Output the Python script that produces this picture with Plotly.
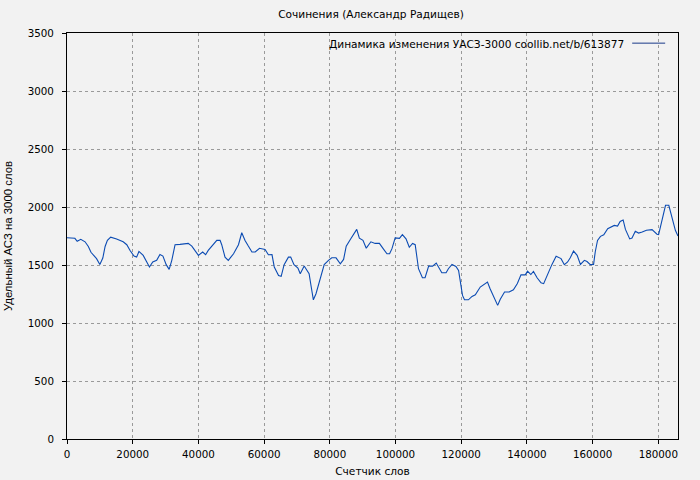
import plotly.graph_objects as go

title_text = "Сочинения (Александр Радищев)"
x_title = "Счетчик слов"
y_title = "Удельный АСЗ на 3000 слов"
series_name = "Динамика изменения УАСЗ-3000 coollib.net/b/613877"

words = [0, 2400, 3100, 4200, 5500, 6500, 7300, 9000, 10000, 10900, 11600, 12300, 13300,
         15100, 17100, 18200, 19200, 20400, 21200, 21900, 23200, 25100, 26100, 27300,
         28300, 29200, 30200, 31100, 31900, 32900, 34400, 36900, 38000, 40000, 41300,
         42200, 43000, 44600, 45600, 46600, 47100, 48100, 49100, 50700, 52200, 53200,
         54200, 55200, 56300, 57300, 58600, 60300, 61300, 62400, 63100, 64400, 65200,
         66100, 67400, 68100, 69100, 70300, 71000, 72200, 73700, 74300, 75000, 75800,
         76900, 78300, 79600, 80600, 81900, 83200, 84200, 85000, 86200, 87000, 88200,
         89000, 90100, 91100, 92500, 93800, 95100, 96300, 97400, 98200, 98900, 99900,
         101200, 102100, 103200, 104200, 105200, 106000, 106500, 107000, 108200, 109000,
         110100, 111300, 112400, 113100, 114100, 115400, 116100, 117200, 118400, 119200,
         119700, 120400, 121000, 122200, 123300, 124300, 125800, 127000, 128000, 128800,
         129900, 131100, 131900, 133200, 134600, 135900, 137100, 138200, 139500, 140200,
         141200, 142000, 143100, 144300, 145100, 146300, 147600, 148900, 150400, 151400,
         152400, 153200, 154200, 155300, 156300, 157500, 158300, 159300, 160300, 160800,
         161500, 162400, 163400, 164600, 165600, 166600, 167600, 168400, 169300, 170000,
         171300, 172000, 173000, 174000, 175100, 176400, 178100, 178800, 179600, 180100,
         181100, 182200, 183200, 184200, 185200, 186000]

uasz = [1735, 1730, 1704, 1721, 1700, 1660, 1610, 1555, 1505, 1560, 1660, 1712, 1740,
        1725, 1700, 1675, 1625, 1577, 1568, 1617, 1583, 1483, 1526, 1540, 1591, 1577,
        1503, 1462, 1540, 1675, 1678, 1686, 1663, 1583, 1612, 1589, 1626, 1683, 1712,
        1712, 1675, 1568, 1540, 1597, 1675, 1778, 1712, 1663, 1612, 1612, 1644, 1634,
        1589, 1590, 1483, 1410, 1402, 1503, 1568, 1568, 1503, 1474, 1425, 1491, 1425,
        1319, 1200, 1252, 1367, 1503, 1540, 1562, 1562, 1511, 1548, 1663, 1718, 1755,
        1807, 1732, 1712, 1645, 1700, 1686, 1686, 1639, 1597, 1597, 1639, 1734, 1730,
        1762, 1725, 1653, 1686, 1675, 1555, 1468, 1390, 1390, 1490, 1490, 1517, 1483,
        1433, 1433, 1468, 1505, 1488, 1454, 1353, 1238, 1200, 1200, 1229, 1243, 1310,
        1330, 1353, 1296, 1224, 1152, 1204, 1267, 1267, 1287, 1340, 1415, 1415, 1447,
        1418, 1444, 1390, 1346, 1339, 1425, 1503, 1575, 1555, 1503, 1526, 1562, 1620,
        1583, 1505, 1540, 1530, 1503, 1505, 1612, 1712, 1747, 1761, 1813, 1828, 1841,
        1835, 1876, 1888, 1807, 1725, 1733, 1790, 1775, 1785, 1799, 1805, 1787, 1765,
        1762, 1885, 2015, 2015, 1915, 1799, 1750]

x_ticks = [0, 20000, 40000, 60000, 80000, 100000, 120000, 140000, 160000, 180000]
y_ticks = [0, 500, 1000, 1500, 2000, 2500, 3000, 3500]

FONT = "DejaVu Sans, sans-serif"
YFONT = "Liberation Sans, Arial, sans-serif"
LINE_COLOR = "#0b4bb3"
FS = 10.6

fig = go.Figure()
fig.add_trace(go.Scatter(x=words, y=uasz, mode="lines", name=series_name,
                         line=dict(color=LINE_COLOR, width=1.1), showlegend=False))

axis_common = dict(
    showline=True, linecolor="black", linewidth=1, mirror=True,
    ticks="outside", ticklen=4, tickcolor="black",
    showgrid=True, gridcolor="#9a9a9a", griddash="dot", gridwidth=1,
    zeroline=False, tickfont=dict(size=10.3, color="black", family=FONT),
    automargin=False,
)

fig.update_xaxes(range=[0, 186000], tickvals=x_ticks,
                 ticktext=[str(v) for v in x_ticks], ticklabelstandoff=2,
                 title=dict(text=x_title, font=dict(size=FS, family=FONT, color="black"),
                            standoff=8),
                 **axis_common)
fig.update_yaxes(range=[0, 3500], tickvals=y_ticks,
                 ticktext=[str(v) for v in y_ticks], ticklabelstandoff=6,
                 title=dict(text=y_title, font=dict(size=11.4, family=YFONT, color="black"),
                            standoff=12),
                 **axis_common)

fig.add_annotation(text=series_name, xref="paper", yref="paper", x=0.915, y=0.993,
                   xanchor="right", yanchor="top", showarrow=False,
                   font=dict(size=FS, family=FONT, color="black"))
fig.add_shape(type="line", xref="paper", yref="paper", x0=0.925, x1=0.979,
              y0=0.975, y1=0.975, line=dict(color="#1a3a8a", width=1))

fig.update_layout(
    width=700, height=480,
    margin=dict(l=67, r=22, t=33, b=41),
    paper_bgcolor="#f2f2f2", plot_bgcolor="#f2f2f2",
    title=dict(text=title_text, x=0.53, xanchor="center", y=0.978, yanchor="top",
               font=dict(size=FS, family=FONT, color="black"), automargin=False),
    font=dict(family=FONT, color="black"),
)

fig.write_html("out.html", config={"displayModeBar": False},
               post_script="document.body.style.margin='0px';"
                           "document.body.style.background='#f2f2f2';")
